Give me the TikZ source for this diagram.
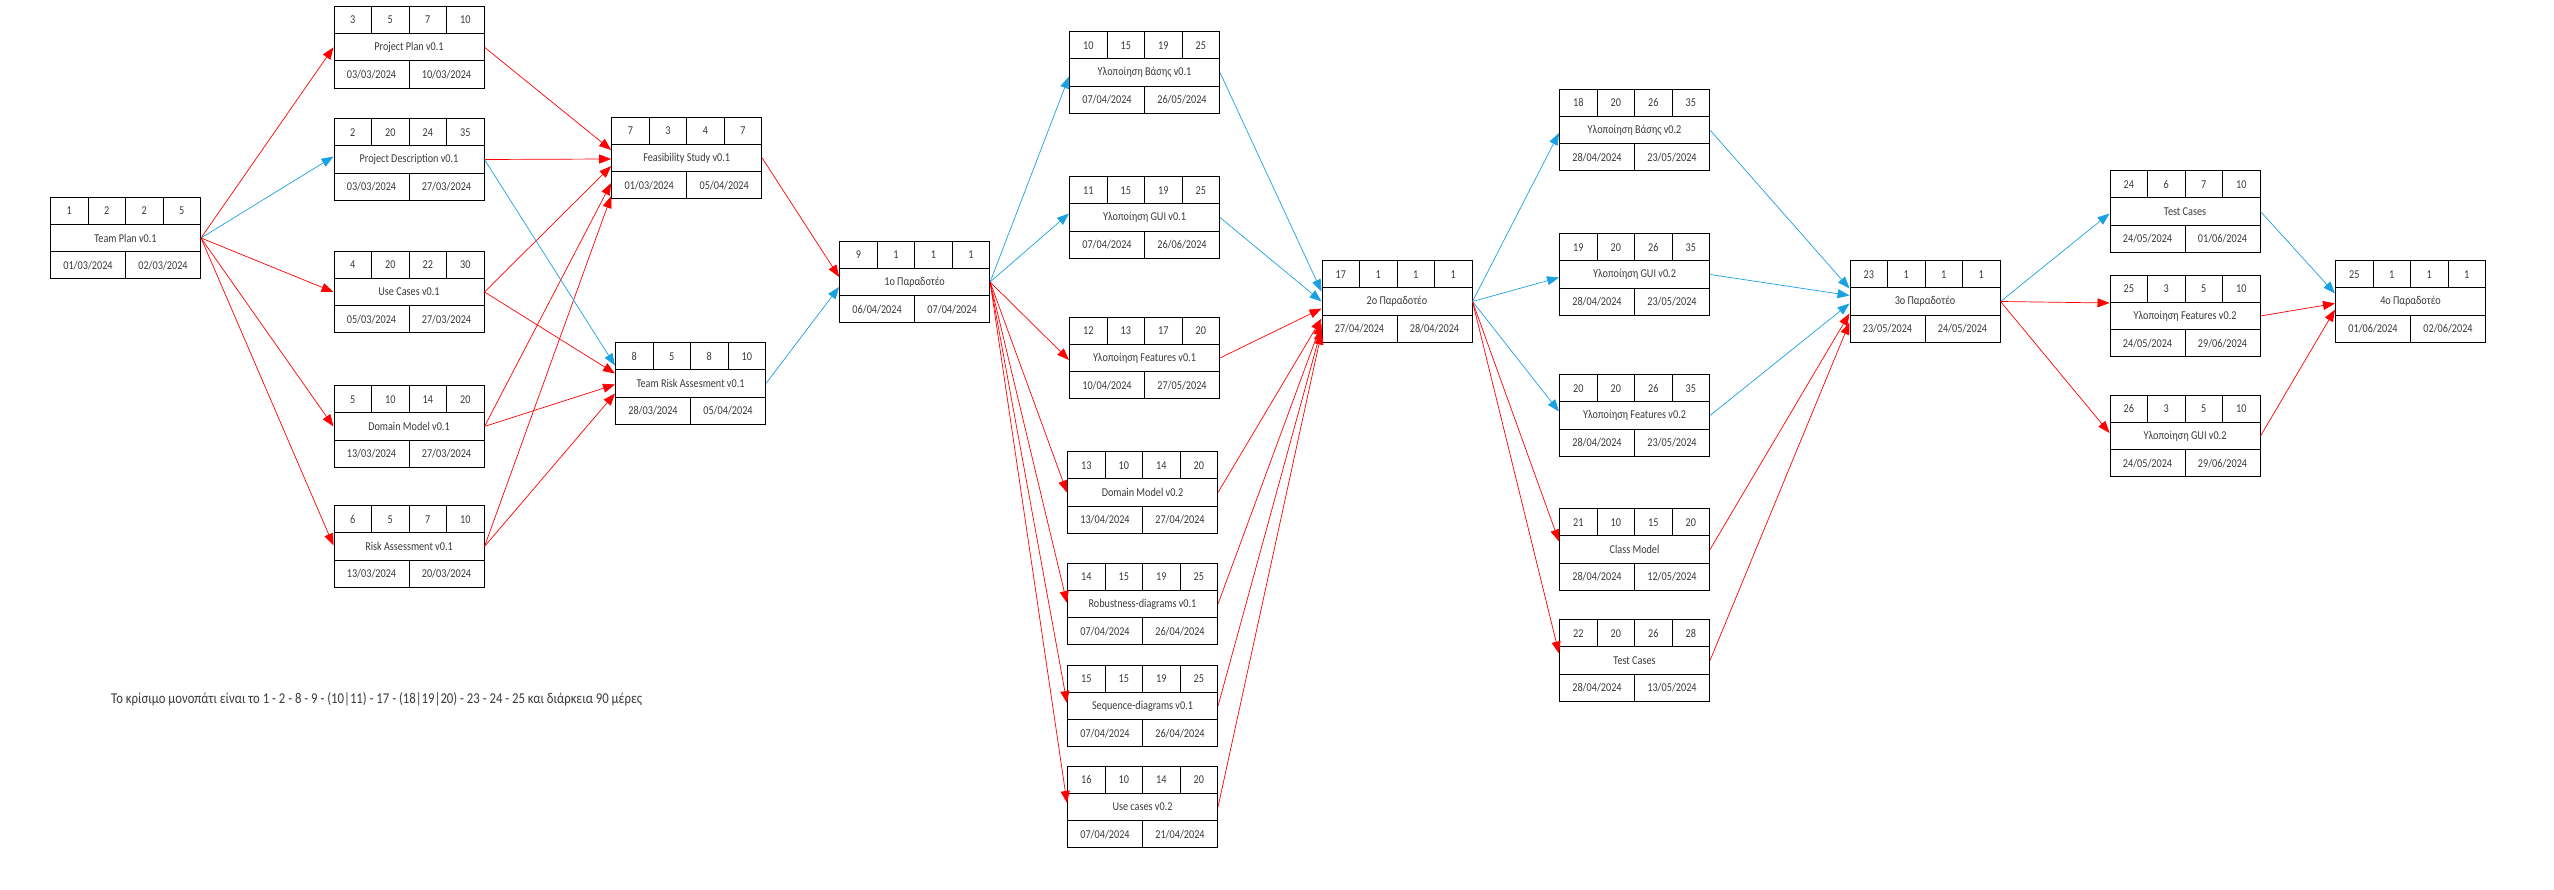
\documentclass[tikz,border=0pt]{standalone}
\usepackage{fontspec}
\setmainfont[FakeStretch=0.85]{Carlito}
\usetikzlibrary{arrows.meta}
\begin{document}
\begin{tikzpicture}[x=1pt,y=-1pt,
  mybox/.style={draw,line width=1pt,minimum width=150pt,minimum height=81.5pt,inner sep=0pt,font=\fontsize{12}{14}\selectfont,text=txtgray},
  mytxt/.style={font=\fontsize{12}{14}\selectfont,text=txtgray,inner sep=0pt},
  crit/.style={draw=critred,line width=0.7pt,-{Triangle[length=12pt,width=9pt]}},
  slack/.style={draw=slackblue,line width=0.7pt,-{Triangle[length=12pt,width=9pt]}}]
\definecolor{critred}{HTML}{FF0000}
\definecolor{slackblue}{HTML}{1BA1E2}
\definecolor{txtgray}{HTML}{3A3A3A}
\useasboundingbox (0,0) rectangle (2554,890);
\foreach \k/\x/\y/\num/\da/\db/\dc/\lbl/\st/\en in {
  1/125.5/238/1/2/2/5/Team Plan v0.1/{01/03/2024}/{02/03/2024},
  2/409/159.5/2/20/24/35/Project Description v0.1/{03/03/2024}/{27/03/2024},
  3/409/47.3/3/5/7/10/Project Plan v0.1/{03/03/2024}/{10/03/2024},
  4/409/292/4/20/22/30/Use Cases v0.1/{05/03/2024}/{27/03/2024},
  5/409/426.5/5/10/14/20/Domain Model v0.1/{13/03/2024}/{27/03/2024},
  6/409/546.5/6/5/7/10/Risk Assessment v0.1/{13/03/2024}/{20/03/2024},
  7/686.7/158/7/3/4/7/Feasibility Study v0.1/{01/03/2024}/{05/04/2024},
  8/690.5/383.5/8/5/8/10/Team Risk Assesment v0.1/{28/03/2024}/{05/04/2024},
  9/914.6/282/9/1/1/1/1ο Παραδοτέο/{06/04/2024}/{07/04/2024},
  10/1144.5/72.5/10/15/19/25/Υλοποίηση Βάσης v0.1/{07/04/2024}/{26/05/2024},
  11/1144.5/217.5/11/15/19/25/Υλοποίηση GUI v0.1/{07/04/2024}/{26/06/2024},
  12/1144.5/358/12/13/17/20/Υλοποίηση Features v0.1/{10/04/2024}/{27/05/2024},
  13/1142.5/492.5/13/10/14/20/Domain Model v0.2/{13/04/2024}/{27/04/2024},
  14/1142.5/604/14/15/19/25/Robustness-diagrams v0.1/{07/04/2024}/{26/04/2024},
  15/1142.5/706/15/15/19/25/Sequence-diagrams v0.1/{07/04/2024}/{26/04/2024},
  16/1142.5/807/16/10/14/20/Use cases v0.2/{07/04/2024}/{21/04/2024},
  17/1397/301.5/17/1/1/1/2ο Παραδοτέο/{27/04/2024}/{28/04/2024},
  18/1634.5/130/18/20/26/35/Υλοποίηση Βάσης v0.2/{28/04/2024}/{23/05/2024},
  19/1634.5/274.5/19/20/26/35/Υλοποίηση GUI v0.2/{28/04/2024}/{23/05/2024},
  20/1634.5/415.5/20/20/26/35/Υλοποίηση Features v0.2/{28/04/2024}/{23/05/2024},
  21/1634.5/549.5/21/10/15/20/Class Model/{28/04/2024}/{12/05/2024},
  22/1634.5/660.5/22/20/26/28/Test Cases/{28/04/2024}/{13/05/2024},
  23/1925/301.5/23/1/1/1/3ο Παραδοτέο/{23/05/2024}/{24/05/2024},
  24/2185/211.5/24/6/7/10/Test Cases/{24/05/2024}/{01/06/2024},
  25/2185/316/25/3/5/10/Υλοποίηση Features v0.2/{24/05/2024}/{29/06/2024},
  26/2185/436/26/3/5/10/Υλοποίηση GUI v0.2/{24/05/2024}/{29/06/2024},
  27/2410.5/301.5/25/1/1/1/4ο Παραδοτέο/{01/06/2024}/{02/06/2024}}
{ \node[mybox] (n\k) at (\x,\y) {\lbl};
  \draw[line width=1pt] (\x-75,\y-13.6) -- (\x+75,\y-13.6) (\x-75,\y+13.6) -- (\x+75,\y+13.6)
    (\x-37.5,\y-40.75) -- (\x-37.5,\y-13.6) (\x,\y-40.75) -- (\x,\y-13.6)
    (\x+37.5,\y-40.75) -- (\x+37.5,\y-13.6) (\x,\y+13.6) -- (\x,\y+40.75);
  \node[mytxt] (n\k-a) at (\x-56.25,\y-27.2) {\num};
  \node[mytxt] (n\k-b) at (\x-18.75,\y-27.2) {\da};
  \node[mytxt] (n\k-c) at (\x+18.75,\y-27.2) {\db};
  \node[mytxt] (n\k-d) at (\x+56.25,\y-27.2) {\dc};
  \node[mytxt] (n\k-s) at (\x-37.5,\y+27.2) {\st};
  \node[mytxt] (n\k-e) at (\x+37.5,\y+27.2) {\en};}
\foreach \s/\t/\clr/\o in {1/3/crit/0, 1/2/slack/3, 1/4/crit/0, 1/5/crit/0, 1/6/crit/1,
  3/7/crit/8, 2/7/crit/-1, 4/7/crit/-8, 5/7/crit/-25, 6/7/crit/-38,
  2/8/slack/18, 4/8/crit/10, 5/8/crit/-1, 6/8/crit/-10, 7/9/crit/5, 8/9/slack/-5,
  9/10/slack/-4, 9/11/slack/4, 9/12/crit/-2, 9/13/crit/0, 9/14/crit/1, 9/15/crit/3, 9/16/crit/4,
  10/17/slack/10, 11/17/slack/0, 12/17/crit/-7, 13/17/crit/-17, 14/17/crit/-22, 15/17/crit/-27, 16/17/crit/-31,
  17/18/slack/-3, 17/19/slack/-3, 17/20/slack/4, 17/21/crit/8, 17/22/crit/7,
  18/23/slack/13, 19/23/slack/6, 20/23/slack/-2, 21/23/crit/-12, 22/23/crit/-21,
  23/24/slack/-2, 23/25/crit/13, 23/26/crit/3, 24/27/slack/8, 25/27/crit/-2, 26/27/crit/-8}
  {\draw[\clr] (n\s.east) -- ([yshift=\o pt]n\t.west);}
\node[mytxt,font=\fontsize{15}{18}\selectfont,anchor=west] (path) at (111,699) {Το κρίσιμο μονοπάτι είναι το 1 - 2 - 8 - 9 - (10|11) - 17 - (18|19|20) - 23 - 24 - 25 και διάρκεια 90 μέρες};
\end{tikzpicture}
\end{document}
